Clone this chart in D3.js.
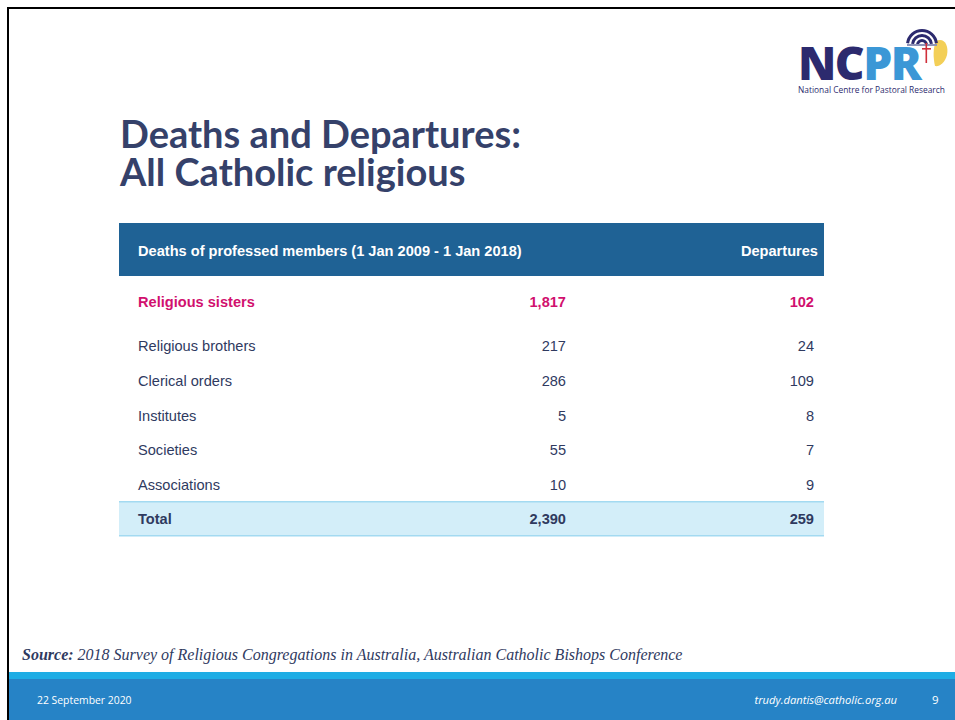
<!DOCTYPE html>
<html>
<head>
<meta charset="utf-8">
<script src="https://cdn.jsdelivr.net/npm/d3@7"></script>
<style>
  html, body { margin: 0; padding: 0; background: #fff; }
  svg { display: block; }
</style>
</head>
<body>
<div id="slide"></div>
<script>
// table data
var categories = ['Religious sisters', 'Religious brothers', 'Clerical orders', 'Institutes', 'Societies', 'Associations'];
var deaths = [1817, 217, 286, 5, 55, 10];
var departures = [102, 24, 109, 8, 7, 9];
var headers = ['Deaths of professed members (1 Jan 2009 - 1 Jan 2018)', 'Departures'];
var totalLabel = 'Total';
var totals = [2390, 259];

function draw_slide() {
    var width = 955, height = 720;
    var navy = '#2f3a5f';
    var fmt = d3.format(',');

    var svg = d3.select('#slide')
        .append('svg')
        .attr('width', width)
        .attr('height', height);

    // slide frame (top + left edge)
    svg.append('rect').attr('x', 7).attr('y', 7).attr('width', width).attr('height', 2).attr('fill', '#000');
    svg.append('rect').attr('x', 7).attr('y', 7).attr('width', 2).attr('height', height).attr('fill', '#000');

    // title, two lines
    svg.append('text')
        .attr('x', 120).attr('y', 148)
        .attr('fill', '#35416a')
        .style('font-family', 'Lato, "Open Sans", sans-serif')
        .style('font-weight', 700)
        .style('font-size', '38px')
        .text('Deaths and Departures:');
    svg.append('text')
        .attr('x', 120).attr('y', 186)
        .attr('fill', '#35416a')
        .style('font-family', 'Lato, "Open Sans", sans-serif')
        .style('font-weight', 700)
        .style('font-size', '38px')
        .text('All Catholic religious');

    // logo
    var logo = svg.append('g').attr('transform', 'translate(798, 80)');
    var ncpr = logo.append('text')
        .style('font-family', '"Open Sans", sans-serif')
        .style('font-weight', 800)
        .style('font-size', '46px')
        .style('letter-spacing', '-1.5px');
    ncpr.append('tspan').attr('fill', '#2c2a6e').text('NC');
    ncpr.append('tspan').attr('fill', '#3b97d6').text('PR');
    logo.append('text')
        .attr('y', 13)
        .attr('fill', '#2c2a6e')
        .style('font-family', '"Open Sans", sans-serif')
        .style('font-size', '8.4px')
        .text('National Centre for Pastoral Research');

    var icon = logo.append('g').attr('transform', 'translate(124, -35)');
    icon.append('path').attr('fill', '#f3cf57')
        .attr('d', 'M14,-4 C22,-8 27,0 25,10 C23,18 17,22 13,21 C11,12 11,3 14,-4Z');
    var arc = d3.arc();
    [[3, 6], [8, 11], [13, 16]].forEach(function(r) {
        icon.append('path').attr('fill', '#2c2a6e')
            .attr('d', arc({innerRadius: r[0], outerRadius: r[1], startAngle: -1.45, endAngle: 1.45}));
    });
    icon.append('rect').attr('x', -15).attr('y', -1).attr('width', 30).attr('height', 2).attr('fill', '#8e93b8');
    icon.append('rect').attr('x', 3.5).attr('y', -2).attr('width', 1.6).attr('height', 20).attr('fill', '#d02f3a');
    icon.append('rect').attr('x', 0).attr('y', 3).attr('width', 9).attr('height', 1.6).attr('fill', '#d02f3a');

    // table
    var tableLeft = 119, tableRight = 824;
    var col = d3.scaleOrdinal().domain(['label', 'deaths', 'departures']).range([138, 566, 814]);
    var rowY = d3.scalePoint().domain(categories.slice(1)).range([351, 490]);
    var firstY = 307;

    var table = svg.append('g')
        .style('font-family', 'Arial, "Liberation Sans", sans-serif')
        .style('font-size', '14.6px');

    table.append('rect')
        .attr('x', tableLeft).attr('y', 223)
        .attr('width', tableRight - tableLeft).attr('height', 53)
        .attr('fill', '#1f6295');
    table.append('text')
        .attr('x', col('label')).attr('y', 256)
        .attr('fill', '#fff')
        .style('font-weight', 700)
        .text(headers[0]);
    table.append('text')
        .attr('x', 818).attr('y', 256)
        .attr('text-anchor', 'end')
        .attr('fill', '#fff')
        .style('font-weight', 700)
        .text(headers[1]);

    var rows = table.selectAll('g.row')
        .data(categories.map(function(c, i) { return {name: c, d: deaths[i], dep: departures[i], i: i}; }))
        .enter()
        .append('g')
        .attr('class', 'row')
        .attr('transform', function(d) { return 'translate(0,' + (d.i === 0 ? firstY : rowY(d.name)) + ')'; })
        .attr('fill', function(d) { return d.i === 0 ? '#d1106e' : navy; })
        .style('font-weight', function(d) { return d.i === 0 ? 700 : 400; });

    rows.append('text').attr('x', col('label')).text(function(d) { return d.name; });
    rows.append('text').attr('x', col('deaths')).attr('text-anchor', 'end').text(function(d) { return fmt(d.d); });
    rows.append('text').attr('x', col('departures')).attr('text-anchor', 'end').text(function(d) { return fmt(d.dep); });

    // total row
    table.append('rect')
        .attr('x', tableLeft).attr('y', 501)
        .attr('width', tableRight - tableLeft).attr('height', 35)
        .attr('fill', '#d3eef9');
    [501, 535].forEach(function(y) {
        table.append('rect').attr('x', tableLeft).attr('y', y)
            .attr('width', tableRight - tableLeft).attr('height', 1.5)
            .attr('fill', '#a3daf1');
    });
    var total = table.append('g')
        .attr('transform', 'translate(0,524)')
        .attr('fill', navy)
        .style('font-weight', 700);
    total.append('text').attr('x', col('label')).text(totalLabel);
    total.append('text').attr('x', col('deaths')).attr('text-anchor', 'end').text(fmt(totals[0]));
    total.append('text').attr('x', col('departures')).attr('text-anchor', 'end').text(fmt(totals[1]));

    // source
    var src = svg.append('text')
        .attr('x', 22).attr('y', 660)
        .attr('fill', navy)
        .style('font-family', '"Liberation Serif", "Times New Roman", serif')
        .style('font-style', 'italic')
        .style('font-size', '16px');
    src.append('tspan').style('font-weight', 700).text('Source:');
    src.append('tspan').text(' 2018 Survey of Religious Congregations in Australia, Australian Catholic Bishops Conference');

    // footer
    svg.append('rect').attr('x', 9).attr('y', 672).attr('width', width).attr('height', 8).attr('fill', '#1eade5');
    svg.append('rect').attr('x', 9).attr('y', 679).attr('width', width).attr('height', 41).attr('fill', '#2683c6');
    var foot = svg.append('g')
        .attr('fill', '#fff')
        .style('font-family', '"Open Sans", sans-serif')
        .style('font-size', '10.4px');
    foot.append('text').attr('x', 37).attr('y', 704).text('22 September 2020');
    foot.append('text').attr('x', 897).attr('y', 704).attr('text-anchor', 'end')
        .style('font-style', 'italic').style('font-size', '11.2px').text('trudy.dantis@catholic.org.au');
    foot.append('text').attr('x', 932).attr('y', 704).style('font-size', '11.5px').text('9');
}

document.addEventListener('DOMContentLoaded', draw_slide);
</script>
</body>
</html>
